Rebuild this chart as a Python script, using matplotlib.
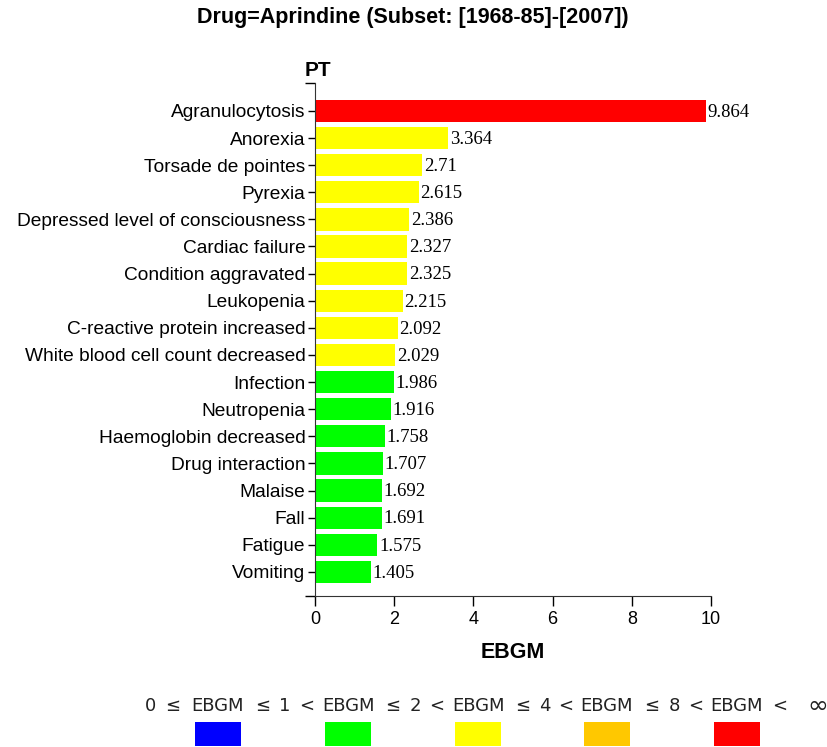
import matplotlib.pyplot as plt
import matplotlib.patches as mpatches

terms = ["Agranulocytosis", "Anorexia", "Torsade de pointes", "Pyrexia",
         "Depressed level of consciousness", "Cardiac failure",
         "Condition aggravated", "Leukopenia", "C-reactive protein increased",
         "White blood cell count decreased", "Infection", "Neutropenia",
         "Haemoglobin decreased", "Drug interaction", "Malaise", "Fall",
         "Fatigue", "Vomiting"]
ebgm = [9.864, 3.364, 2.71, 2.615, 2.386, 2.327, 2.325, 2.215, 2.092,
        2.029, 1.986, 1.916, 1.758, 1.707, 1.692, 1.691, 1.575, 1.405]

# colour bands: 0-1, 1-2, 2-4, 4-8, 8+
band_edges = [1, 2, 4, 8]
band_bounds = ["0", "1", "2", "4", "8", "\u221e"]
band_colors = ["#0000FF", "#00FF00", "#FFFF00", "#FFC800", "#FF0000"]


def bandColor(v):
    for edge, c in zip(band_edges, band_colors):
        if v <= edge:
            return c
    return band_colors[-1]


fig = plt.figure(figsize=(8.27, 7.47), dpi=100)
ax = fig.add_axes([315 / 827, 1 - 596 / 747, 396 / 827, 513 / 747])

ypos = list(range(len(terms)))
colors = [bandColor(v) for v in ebgm]
ax.barh(ypos, ebgm, height=0.82, color=colors, edgecolor="none")
for y, v in zip(ypos, ebgm):
    ax.text(v + 0.04, y + 0.05, f"{v:g}", va="center", ha="left",
            fontsize=13.5, family="Liberation Serif")

y_lo, y_hi = len(terms) - 1 + 0.89, -1.03
ax.set_ylim(y_lo, y_hi)
ax.set_xlim(0, 10)
ax.set_xticks([0, 2, 4, 6, 8, 10])
ax.set_yticks(ypos)
ax.set_yticklabels(terms, family="Liberation Sans", fontsize=13.8)
# small end ticks on the category axis
ax.set_yticks([y_lo, y_hi], minor=True)
ax.tick_params(axis="y", which="minor", length=7, width=1, labelleft=False)
ax.tick_params(axis="x", length=7, width=1, labelsize=13, pad=4)
ax.tick_params(axis="y", which="major", length=5, width=1, pad=2)
for lbl in ax.get_xticklabels():
    lbl.set_family("Liberation Sans")
ax.spines["top"].set_visible(False)
ax.spines["right"].set_visible(False)
ax.spines["left"].set_color("#333333")
ax.spines["bottom"].set_color("#333333")

fig.text(413 / 827, 1 - 18 / 747, "Drug=Aprindine (Subset: [1968-85]-[2007])",
         ha="center", va="center", fontsize=15.5, fontweight="bold",
         family="Liberation Sans")
fig.text(318 / 827, 1 - 70 / 747, "PT", ha="center", va="center",
         fontsize=15, fontweight="bold", family="Liberation Sans")
fig.text(513 / 827, 1 - 652 / 747, "EBGM", ha="center", va="center",
         fontsize=15.5, fontweight="bold", family="Liberation Sans")

# legend row: one colour box per band, "lo <(=) EBGM <= hi" above it
box_x = [195, 325, 455, 584, 714]
box_w = 46
text_y = 1 - 706 / 747
legend_font = dict(ha="center", va="center", fontsize=13, family="DejaVu Sans",
                   color="#222222")
for i, (x, c) in enumerate(zip(box_x, band_colors)):
    cx = x + box_w / 2
    fig.patches.append(mpatches.Rectangle((x / 827, 1 - 746 / 747), box_w / 827, 24 / 747,
                                          transform=fig.transFigure, facecolor=c,
                                          edgecolor="none"))
    fig.text(cx / 827, text_y, "EBGM", **legend_font)
    if i == 0:
        fig.text((cx - 45) / 827, text_y, "\u2264", **legend_font)
        fig.text((cx - 68) / 827, text_y, band_bounds[0], **legend_font)
    else:
        fig.text((cx - 41) / 827, text_y, "<", **legend_font)
    if i == len(band_colors) - 1:
        fig.text((cx + 43) / 827, text_y, "<", **legend_font)
        fig.text((cx + 81) / 827, text_y, band_bounds[-1], ha="center", va="center",
                 fontsize=18, family="DejaVu Sans", color="#222222")
    else:
        fig.text((cx + 45) / 827, text_y, "\u2264", **legend_font)
        fig.text((cx + 67) / 827, text_y, band_bounds[i + 1], **legend_font)

fig.savefig("out.png", dpi=100)
